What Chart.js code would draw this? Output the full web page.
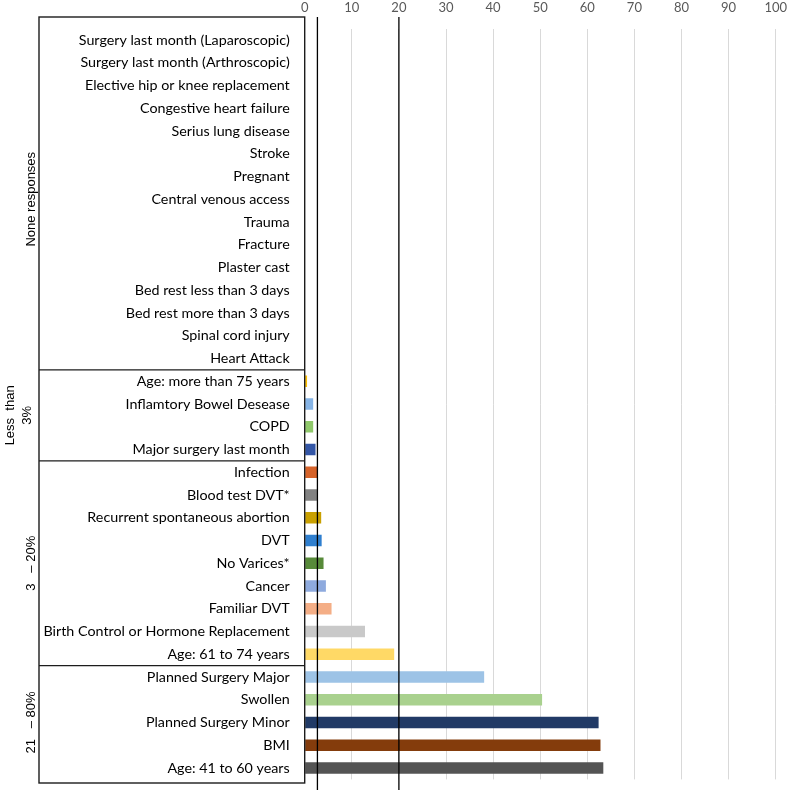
<!DOCTYPE html>
<html>
<head>
<meta charset="utf-8">
<title>Risk factors</title>
<script src="https://cdn.jsdelivr.net/npm/chart.js@4.4.1/dist/chart.umd.min.js"></script>
<style>
    html, body {
        margin: 0;
        padding: 0;
        background: #ffffff;
    }

    #chartBox {
        width: 788px;
        height: 790px;
        position: relative;
    }
</style>
</head>
<body>

<div id="chartBox">
    <canvas id="riskChart"></canvas>
</div>

<script>
// ==========================
// DATA
// ==========================

const riskFactors = [
    "Surgery last month (Laparoscopic)",
    "Surgery last month (Arthroscopic)",
    "Elective hip or knee replacement",
    "Congestive heart failure",
    "Serius lung disease",
    "Stroke",
    "Pregnant",
    "Central venous access",
    "Trauma",
    "Fracture",
    "Plaster cast",
    "Bed rest less than 3 days",
    "Bed rest more than 3 days",
    "Spinal cord injury",
    "Heart Attack",
    "Age: more than 75 years",
    "Inflamtory Bowel Desease",
    "COPD",
    "Major surgery last month",
    "Infection",
    "Blood test DVT*",
    "Recurrent spontaneous abortion",
    "DVT",
    "No Varices*",
    "Cancer",
    "Familiar DVT",
    "Birth Control or Hormone Replacement",
    "Age: 61 to 74 years",
    "Planned Surgery Major",
    "Swollen",
    "Planned Surgery Minor",
    "BMI",
    "Age: 41 to 60 years"
];

const responsePct = [
    0, 0, 0, 0, 0, 0, 0, 0, 0, 0, 0, 0, 0, 0, 0,
    0.5, 1.8, 1.8, 2.3,
    2.7, 2.6, 3.5, 3.6, 4.0, 4.5, 5.7, 12.8, 19.0,
    38.1, 50.4, 62.4, 62.8, 63.4
];

const barColors = [
    "#ffffff", "#ffffff", "#ffffff", "#ffffff", "#ffffff",
    "#ffffff", "#ffffff", "#ffffff", "#ffffff", "#ffffff",
    "#ffffff", "#ffffff", "#ffffff", "#ffffff", "#ffffff",
    "#ffc000", "#86b4e6", "#8fc86a", "#3356a6",
    "#d6632a", "#828282", "#c9a000", "#2f7fcf", "#578a39",
    "#8eaade", "#f4ae86", "#c9c9c9", "#ffd966",
    "#9dc3e6", "#a9d18e", "#213a66", "#843c0c", "#545454"
];

// group names on the left and how many rows each one covers
const groupNames = [
    ["None responses"],
    ["Less  than", "3%"],
    ["3   – 20%"],
    ["21   – 80%"]
];

const groupSizes = [15, 4, 9, 5];

// black marker lines for the 3% and 20% limits
const limitLines = [2.7, 20];

const xMin = 0;
const xMax = 100;
const xStep = 10;


// ==========================
// FRAME + GROUP LABELS
// ==========================

const framePlugin = {

    id: "frame",

    afterDatasetsDraw(chart) {

        const ctx = chart.ctx;
        const area = chart.chartArea;
        const xScale = chart.scales.x;
        const yScale = chart.scales.y;

        const half = (yScale.getPixelForValue(1) -
            yScale.getPixelForValue(0)) / 2;

        const boxLeft = 39;
        const boxTop = 17;
        const boxBottom = 783;

        ctx.save();

        // outer box
        ctx.strokeStyle = "#1c1c1c";
        ctx.lineWidth = 1.4;
        ctx.strokeRect(
            boxLeft,
            boxTop,
            area.left - boxLeft,
            boxBottom - boxTop);

        // group separators + rotated names
        let start = 0;

        groupSizes.forEach((size, i) => {

            const end = start + size - 1;

            const yTop =
                yScale.getPixelForValue(start) - half;
            const yBottom =
                yScale.getPixelForValue(end) + half;

            if (i > 0) {
                ctx.beginPath();
                ctx.moveTo(boxLeft, yTop);
                ctx.lineTo(area.left, yTop);
                ctx.stroke();
            }

            const lines = groupNames[i];
            const yMid = (yTop + yBottom) / 2;

            ctx.fillStyle = "#000000";
            ctx.font = "13px 'Liberation Sans', Arial, sans-serif";
            ctx.textAlign = "center";
            ctx.textBaseline = "middle";

            lines.forEach((txt, k) => {

                let xPos = 31;

                if (lines.length > 1) {
                    xPos = 10 + k * 17;
                }

                ctx.save();
                ctx.translate(xPos, yMid);
                ctx.rotate(-Math.PI / 2);
                ctx.fillText(txt, 0, 0);
                ctx.restore();
            });

            start = end + 1;
        });

        // limit lines
        ctx.strokeStyle = "#000000";
        ctx.lineWidth = 1.3;

        limitLines.forEach(v => {

            const x = xScale.getPixelForValue(v);

            ctx.beginPath();
            ctx.moveTo(x, boxTop);
            ctx.lineTo(x, 790);
            ctx.stroke();
        });

        ctx.restore();
    }
};


// ==========================
// BAR CHART
// ==========================

const chartCtx =
document.getElementById(
    "riskChart");

new Chart(chartCtx, {

    type: "bar",

    data: {

        labels: riskFactors,

        datasets: [{

            data: responsePct,

            backgroundColor: barColors,

            borderWidth: 0,

            barPercentage: 0.5,

            categoryPercentage: 1
        }]
    },

    options: {

        indexAxis: "y",

        responsive: true,

        maintainAspectRatio: false,

        animation: false,

        layout: {

            padding: {
                left: 0,
                right: 12.3,
                top: 0,
                bottom: 10.6
            }
        },

        plugins: {

            legend: {
                display: false
            },

            tooltip: {
                enabled: false
            }
        },

        scales: {

            x: {

                position: "top",

                min: xMin,

                max: xMax,

                afterFit: (scale) => {
                    scale.height = 28.6;
                    scale.paddingLeft = 0;
                    scale.paddingRight = 0;
                },

                ticks: {
                    stepSize: xStep,
                    padding: 13,
                    color: "#595959",
                    font: {
                        family: "Lato, 'Open Sans', sans-serif",
                        size: 13
                    }
                },

                grid: {
                    color: "#d9d9d9",
                    lineWidth: 1,
                    drawTicks: false
                },

                border: {
                    display: false
                }
            },

            y: {

                afterFit: (scale) => {
                    scale.width = 304.7;
                    scale.paddingTop = 0;
                    scale.paddingBottom = 0;
                },

                ticks: {
                    padding: 15,
                    color: "#000000",
                    autoSkip: false,
                    font: {
                        family: "Lato, 'Open Sans', sans-serif",
                        size: 14.3
                    }
                },

                grid: {
                    display: false,
                    drawTicks: false
                },

                border: {
                    display: false
                }
            }
        }
    },

    plugins: [framePlugin]
});
</script>

</body>
</html>
